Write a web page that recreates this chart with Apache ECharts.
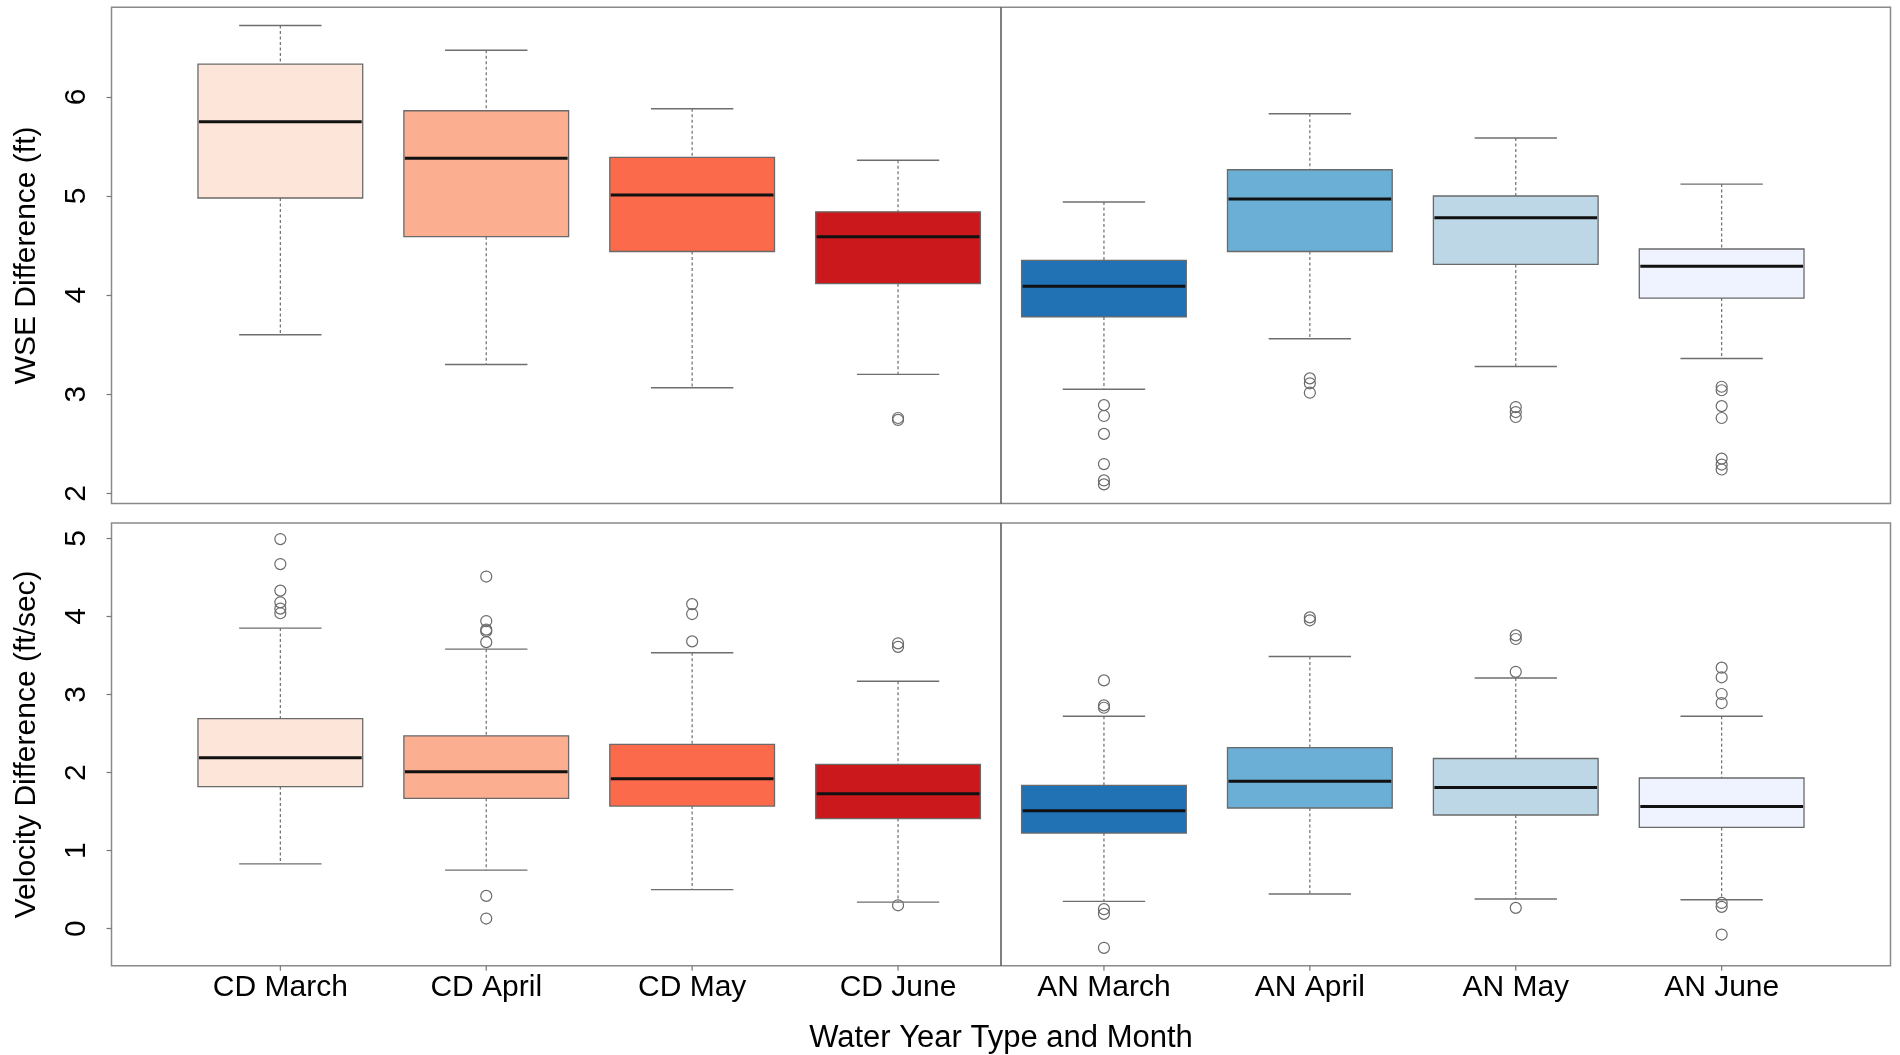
<!DOCTYPE html>
<html>
<head>
<meta charset="utf-8">
<script src="https://cdn.jsdelivr.net/npm/echarts@6/dist/echarts.min.js"></script>
<style>
html,body{margin:0;padding:0;background:#ffffff;}
#chart{width:1900px;height:1055px;}
</style>
</head>
<body>
<div id="chart"></div>
<script>
// ---------------- data ----------------
const categories = ['CD March','CD April','CD May','CD June','AN March','AN April','AN May','AN June'];
const wseTicks = [2, 3, 4, 5, 6];
const velTicks = [0, 1, 2, 3, 4, 5];

const wseLow    = [3.60, 3.30, 3.065, 3.20, 3.05, 3.56, 3.28, 3.36];
const wseQ1     = [4.98, 4.59, 4.44, 4.115, 3.78, 4.44, 4.31, 3.97];
const wseMedian = [5.75, 5.38, 5.01, 4.59, 4.09, 4.97, 4.78, 4.29];
const wseQ3     = [6.33, 5.86, 5.39, 4.84, 4.35, 5.265, 5.00, 4.465];
const wseHigh   = [6.72, 6.47, 5.88, 5.36, 4.94, 5.83, 5.585, 5.12];
const wseOutliers = [
  [], [], [], [2.76, 2.74],
  [2.89, 2.78, 2.60, 2.295, 2.13, 2.09],
  [3.16, 3.11, 3.015],
  [2.87, 2.82, 2.77],
  [3.075, 3.04, 2.88, 2.76, 2.35, 2.29, 2.24]
];

const velLow    = [0.83, 0.75, 0.50, 0.34, 0.35, 0.445, 0.38, 0.37];
const velQ1     = [1.82, 1.67, 1.57, 1.41, 1.225, 1.546, 1.456, 1.297];
const velMedian = [2.19, 2.01, 1.92, 1.727, 1.51, 1.887, 1.81, 1.564];
const velQ3     = [2.69, 2.47, 2.36, 2.105, 1.835, 2.32, 2.18, 1.93];
const velHigh   = [3.85, 3.58, 3.535, 3.17, 2.72, 3.486, 3.21, 2.72];
const velOutliers = [
  [4.99, 4.67, 4.33, 4.18, 4.10, 4.04],
  [4.51, 3.94, 3.83, 3.81, 3.67, 0.42, 0.13],
  [4.157, 4.03, 3.68],
  [3.655, 3.61, 0.30],
  [3.18, 2.86, 2.83, 0.25, 0.19, -0.245],
  [3.987, 3.95],
  [3.757, 3.71, 3.29, 0.267],
  [3.343, 3.22, 3.006, 2.89, 0.33, 0.28, -0.075]
];

// ---------------- styles / layout ----------------
const boxColors = ['#FEE5D9','#FCAE91','#FB6A4A','#CB181D','#2171B5','#6BAED6','#BDD7E7','#EFF3FF'];
const FONT = 'Liberation Sans, Arial, Helvetica, sans-serif';

const frameL = 111.5, frameR = 1890.5;
const pad = (frameR - frameL) * 0.32 / 8.64;
const dataL = frameL + pad, dataR = frameR - pad;
const topFrame = {t: 7.3, b: 503.5};
const topData  = {t: 96.9, b: 493.3};
const botFrame = {t: 523, b: 965.7};
const botData  = {t: 538.3, b: 929.4};

function rows(low, q1, med, q3, high) {
  return categories.map((c, i) => [i, low[i], q1[i], med[i], q3[i], high[i]]);
}
function outlierPoints(outs) {
  const pts = [];
  outs.forEach((arr, i) => arr.forEach(v => pts.push([i, v])));
  return pts;
}

const whiskerStyle = {stroke: '#6e6e6e', lineWidth: 1.2, lineDash: [3, 2.5]};
const capStyle = {stroke: '#6e6e6e', lineWidth: 1.4};

function boxRender(params, api) {
  const i = api.value(0);
  const band = api.size([1, 0])[0];
  const bw = band * 0.8, cw = band * 0.4;
  const x = api.coord([i, api.value(3)])[0];
  const yLow = api.coord([i, api.value(1)])[1];
  const yQ1 = api.coord([i, api.value(2)])[1];
  const yMed = api.coord([i, api.value(3)])[1];
  const yQ3 = api.coord([i, api.value(4)])[1];
  const yHigh = api.coord([i, api.value(5)])[1];
  return {
    type: 'group',
    children: [
      {type: 'line', shape: {x1: x, y1: yHigh, x2: x, y2: yQ3}, style: whiskerStyle},
      {type: 'line', shape: {x1: x, y1: yQ1, x2: x, y2: yLow}, style: whiskerStyle},
      {type: 'line', shape: {x1: x - cw / 2, y1: yHigh, x2: x + cw / 2, y2: yHigh}, style: capStyle},
      {type: 'line', shape: {x1: x - cw / 2, y1: yLow, x2: x + cw / 2, y2: yLow}, style: capStyle},
      {type: 'rect', shape: {x: x - bw / 2, y: yQ3, width: bw, height: yQ1 - yQ3},
        style: {fill: boxColors[i], stroke: '#6a6a6a', lineWidth: 1.3}},
      {type: 'line', shape: {x1: x - bw / 2 + 1, y1: yMed, x2: x + bw / 2 - 1, y2: yMed},
        style: {stroke: '#111', lineWidth: 3}}
    ]
  };
}

function dividerRender(frame) {
  return function (params, api) {
    const band = api.size([1, 0])[0];
    const x = api.coord([3, 0])[0] + band / 2;
    return {type: 'line', shape: {x1: x, y1: frame.t, x2: x, y2: frame.b},
      style: {stroke: '#555', lineWidth: 1.5}};
  };
}

function xTickRender(params, api) {
  const x = api.coord([api.value(0), 0])[0];
  return {type: 'line', shape: {x1: x, y1: botFrame.b, x2: x, y2: botFrame.b + 5},
    style: {stroke: '#777', lineWidth: 1.2}};
}

const chart = echarts.init(document.getElementById('chart'), null, {renderer: 'canvas'});

const axisLabelStyle = {fontFamily: FONT, fontSize: 30, color: '#000'};
const nameStyle = {fontFamily: FONT, fontSize: 30, color: '#000'};

const option = {
  animation: false,
  backgroundColor: '#ffffff',
  textStyle: {fontFamily: FONT},
  grid: [
    {left: frameL, width: frameR - frameL, top: topFrame.t, height: topFrame.b - topFrame.t,
      show: true, borderColor: '#8a8a8a', borderWidth: 1.5, backgroundColor: 'transparent'},
    {left: frameL, width: frameR - frameL, top: botFrame.t, height: botFrame.b - botFrame.t,
      show: true, borderColor: '#8a8a8a', borderWidth: 1.5, backgroundColor: 'transparent'},
    {left: dataL, width: dataR - dataL, top: topData.t, height: topData.b - topData.t},
    {left: dataL, width: dataR - dataL, top: botData.t, height: botData.b - botData.t}
  ],
  xAxis: [
    {gridIndex: 0, type: 'value', show: false},
    {gridIndex: 1, type: 'value', show: false},
    {gridIndex: 2, type: 'category', data: categories, boundaryGap: true,
      axisLine: {show: false}, axisTick: {show: false}, axisLabel: {show: false}, splitLine: {show: false}},
    {gridIndex: 3, type: 'category', data: categories, boundaryGap: true, position: 'bottom',
      offset: botFrame.b - botData.b,
      axisLine: {show: false},
      axisTick: {show: false},
      axisLabel: Object.assign({margin: 8, interval: 0}, axisLabelStyle),
      splitLine: {show: false},
      name: 'Water Year Type and Month', nameLocation: 'middle', nameGap: 58,
      nameTextStyle: {fontFamily: FONT, fontSize: 31, color: '#000'}}
  ],
  yAxis: [
    {gridIndex: 0, type: 'value', min: 0, max: 1, show: true,
      axisLine: {show: false}, axisTick: {show: false}, axisLabel: {show: false}, splitLine: {show: false},
      name: 'WSE Difference (ft)', nameLocation: 'middle', nameRotate: 90, nameGap: 70,
      nameTextStyle: nameStyle},
    {gridIndex: 1, type: 'value', min: 0, max: 1, show: true,
      axisLine: {show: false}, axisTick: {show: false}, axisLabel: {show: false}, splitLine: {show: false},
      name: 'Velocity Difference (ft/sec)', nameLocation: 'middle', nameRotate: 90, nameGap: 70,
      nameTextStyle: nameStyle},
    {gridIndex: 2, type: 'value', min: wseTicks[0], max: wseTicks[wseTicks.length - 1], interval: 1,
      offset: pad, axisLine: {show: false},
      axisTick: {show: true, length: 5, lineStyle: {color: '#777', width: 1.2}},
      axisLabel: Object.assign({rotate: 90, margin: 20}, axisLabelStyle),
      splitLine: {show: false}},
    {gridIndex: 3, type: 'value', min: velTicks[0], max: velTicks[velTicks.length - 1], interval: 1,
      offset: pad, axisLine: {show: false},
      axisTick: {show: true, length: 5, lineStyle: {color: '#777', width: 1.2}},
      axisLabel: Object.assign({rotate: 90, margin: 20}, axisLabelStyle),
      splitLine: {show: false}}
  ],
  series: [
    {type: 'custom', xAxisIndex: 2, yAxisIndex: 2, clip: false, silent: true,
      renderItem: dividerRender(topFrame), data: [[3, 4]]},
    {type: 'custom', xAxisIndex: 3, yAxisIndex: 3, clip: false, silent: true,
      renderItem: dividerRender(botFrame), data: [[3, 2]]},
    {type: 'custom', xAxisIndex: 3, yAxisIndex: 3, clip: false, silent: true,
      renderItem: xTickRender, data: categories.map((c, i) => [i, 0])},
    {type: 'custom', xAxisIndex: 2, yAxisIndex: 2, clip: false, silent: true,
      encode: {x: 0, y: [1, 2, 3, 4, 5]},
      renderItem: boxRender, data: rows(wseLow, wseQ1, wseMedian, wseQ3, wseHigh)},
    {type: 'custom', xAxisIndex: 3, yAxisIndex: 3, clip: false, silent: true,
      encode: {x: 0, y: [1, 2, 3, 4, 5]},
      renderItem: boxRender, data: rows(velLow, velQ1, velMedian, velQ3, velHigh)},
    {type: 'scatter', xAxisIndex: 2, yAxisIndex: 2, clip: false, silent: true,
      symbol: 'circle', symbolSize: 11,
      itemStyle: {color: 'rgba(255,255,255,0)', borderColor: '#6a6a6a', borderWidth: 1.2, opacity: 1},
      data: outlierPoints(wseOutliers)},
    {type: 'scatter', xAxisIndex: 3, yAxisIndex: 3, clip: false, silent: true,
      symbol: 'circle', symbolSize: 11,
      itemStyle: {color: 'rgba(255,255,255,0)', borderColor: '#6a6a6a', borderWidth: 1.2, opacity: 1},
      data: outlierPoints(velOutliers)}
  ]
};
chart.setOption(option);
</script>
</body>
</html>
